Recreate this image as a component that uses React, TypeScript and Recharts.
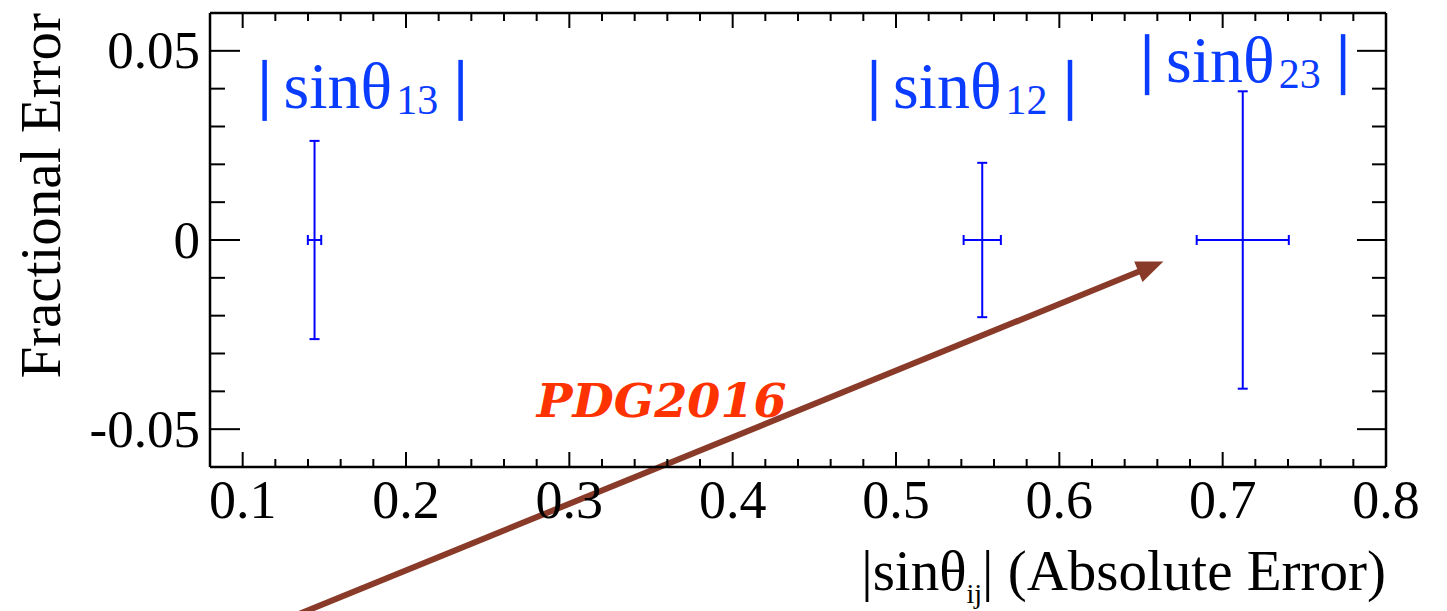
import React from "react";
import {
	ScatterChart,
	Scatter,
	XAxis,
	YAxis,
	ErrorBar,
	ReferenceLine,
	ReferenceDot,
} from "recharts";

// mixing angles: |sin θij| value, absolute (x) and fractional (y) errors
const angles = ["13", "12", "23"];
const sinValues = [0.144, 0.5528, 0.7123];
const fracValues = [0, 0, 0];
const absErrors = [0.0041, 0.0114, 0.0282];
const fracErrors = [0.0262, 0.0204, 0.0393];

// axis ticks
const xMajor = [0.1, 0.2, 0.3, 0.4, 0.5, 0.6, 0.7, 0.8];
const xLabels = ["0.1", "0.2", "0.3", "0.4", "0.5", "0.6", "0.7", "0.8"];
const yMajor = [-0.05, 0, 0.05];
const yLabels = ["-0.05", "0", "0.05"];

// annotation anchors, in data units
const labelX = [0.1734, 0.5465, 0.7137];
const labelY = [0.035, 0.035, 0.0418];
const arrowFrom = { x: 0.128, y: -0.1 };
const arrowTo = { x: 0.6637, y: -0.0057 };
const tagText = "PDG2016";
const tagPos = { x: 0.28, y: -0.0467 };

const SERIF = "'Liberation Serif', 'Times New Roman', serif";
const BLUE = "#0000ff";
const LABEL_BLUE = "#0a3cff";
const BROWN = "#8a3a28";

const xMinor = Array.from({ length: 36 }, (_, i) => +(0.1 + i * 0.02).toFixed(2));
const yMinor = Array.from({ length: 11 }, (_, i) => +(-0.05 + i * 0.01).toFixed(2));

const points = angles.map((a, i) => ({
	name: a,
	x: sinValues[i],
	y: fracValues[i],
	ex: absErrors[i],
	ey: fracErrors[i],
}));

const labels = angles.map((a, i) => ({ sub: a, x: labelX[i], y: labelY[i] }));

const majorIndex = (v: number, majors: number[]) =>
	majors.findIndex((m) => Math.abs(m - v) < 1e-9);

function BottomTick({ x, y, payload }: any) {
	const idx = majorIndex(payload.value, xMajor);
	const len = idx >= 0 ? 15 : 8;
	return (
		<g>
			<line x1={x} y1={y} x2={x} y2={y - len} stroke="#000" strokeWidth={2} />
			{idx >= 0 && (
				<text x={x} y={y + 51} textAnchor="middle" fontSize={54} fontFamily={SERIF} fill="#000">
					{xLabels[idx]}
				</text>
			)}
		</g>
	);
}

function TopTick({ x, y, payload }: any) {
	const len = majorIndex(payload.value, xMajor) >= 0 ? 15 : 8;
	return <line x1={x} y1={y} x2={x} y2={y + len} stroke="#000" strokeWidth={2} />;
}

function LeftTick({ x, y, payload }: any) {
	const idx = majorIndex(payload.value, yMajor);
	const len = idx >= 0 ? 30 : 15;
	return (
		<g>
			<line x1={x} y1={y} x2={x + len} y2={y} stroke="#000" strokeWidth={2} />
			{idx >= 0 && (
				<text x={x - 10} y={y + 17.5} textAnchor="end" fontSize={53} fontFamily={SERIF} fill="#000">
					{yLabels[idx]}
				</text>
			)}
		</g>
	);
}

function RightTick({ x, y, payload }: any) {
	const len = majorIndex(payload.value, yMajor) >= 0 ? 29 : 14;
	return <line x1={x} y1={y} x2={x - len} y2={y} stroke="#000" strokeWidth={2} />;
}

function SinLabel({ cx, cy, payload }: any) {
	const barTop = cy - 47.7;
	return (
		<g>
			<rect x={cx - 100.2} y={barTop} width={4.5} height={61} fill={LABEL_BLUE} />
			<rect x={cx + 95.8} y={barTop} width={4.5} height={61} fill={LABEL_BLUE} />
			<text x={cx - 79} y={cy} fontFamily={SERIF} fill={LABEL_BLUE}>
				<tspan fontSize={66}>sinθ</tspan>
				<tspan fontSize={42} dx={4} dy={6.5}>
					{payload.sub}
				</tspan>
			</text>
		</g>
	);
}

function Arrow({ x1, y1, x2, y2 }: any) {
	const dx = x2 - x1;
	const dy = y2 - y1;
	const L = Math.sqrt(dx * dx + dy * dy);
	const ux = dx / L;
	const uy = dy / L;
	const head = 27;
	const half = 11;
	const bx = x2 - ux * head;
	const by = y2 - uy * head;
	return (
		<g>
			<line x1={x1} y1={y1} x2={bx + ux * 2} y2={by + uy * 2} stroke={BROWN} strokeWidth={6} />
			<polygon
				points={`${x2},${y2} ${bx - uy * half},${by + ux * half} ${bx + uy * half},${by - ux * half}`}
				fill={BROWN}
			/>
		</g>
	);
}

export default function App() {
	const frame = { stroke: "#000", strokeWidth: 2.5 };
	return (
		<div>
			<style>{"body{margin:0}"}</style>
			<ScatterChart
				width={1447}
				height={611}
				margin={{ top: 12, right: 60, bottom: 0, left: 0 }}
				style={{ fontFamily: SERIF }}
			>
				<XAxis
					xAxisId="b"
					dataKey="x"
					type="number"
					orientation="bottom"
					domain={[0.08, 0.8]}
					allowDataOverflow
					ticks={xMinor}
					interval={0}
					tickSize={0}
					tickMargin={0}
					tickLine={false}
					height={144}
					axisLine={frame}
					tick={(p: any) => <BottomTick {...p} />}
					label={{
						content: ({ viewBox }: any) => (
							<text
								x={viewBox.x + viewBox.width}
								y={590}
								textAnchor="end"
								fontFamily={SERIF}
								fontSize={57}
								fill="#000"
							>
								|sinθ
								<tspan fontSize={28} dy={13}>
									ij
								</tspan>
								<tspan dy={-13}>| (Absolute Error)</tspan>
							</text>
						),
					}}
				/>
				<XAxis
					xAxisId="t"
					dataKey="x"
					type="number"
					orientation="top"
					domain={[0.08, 0.8]}
					allowDataOverflow
					ticks={xMinor}
					interval={0}
					tickSize={0}
					tickMargin={0}
					tickLine={false}
					height={1}
					axisLine={frame}
					tick={(p: any) => <TopTick {...p} />}
				/>
				<YAxis
					yAxisId="l"
					dataKey="y"
					type="number"
					domain={[-0.06, 0.06]}
					allowDataOverflow
					ticks={yMinor}
					interval={0}
					tickSize={0}
					tickMargin={0}
					tickLine={false}
					width={210}
					axisLine={frame}
					tick={(p: any) => <LeftTick {...p} />}
					label={{
						content: () => (
							<text
								x={60}
								y={13}
								transform="rotate(-90 60 13)"
								textAnchor="end"
								fontFamily={SERIF}
								fontSize={57}
								fill="#000"
							>
								Fractional Error
							</text>
						),
					}}
				/>
				<YAxis
					yAxisId="r"
					dataKey="y"
					type="number"
					orientation="right"
					domain={[-0.06, 0.06]}
					allowDataOverflow
					ticks={yMinor}
					interval={0}
					tickSize={0}
					tickMargin={0}
					tickLine={false}
					width={1}
					axisLine={frame}
					tick={(p: any) => <RightTick {...p} />}
				/>
				<Scatter
					xAxisId="b"
					yAxisId="l"
					data={points}
					isAnimationActive={false}
					shape={() => <g />}
				>
					<ErrorBar dataKey="ey" direction="y" width={5} stroke={BLUE} strokeWidth={2} isAnimationActive={false} />
					<ErrorBar dataKey="ex" direction="x" width={5} stroke={BLUE} strokeWidth={2} isAnimationActive={false} />
				</Scatter>
				<Scatter
					xAxisId="t"
					yAxisId="r"
					data={labels}
					isAnimationActive={false}
					shape={(p: any) => <SinLabel {...p} />}
				/>
				<ReferenceDot
					xAxisId="t"
					yAxisId="r"
					x={tagPos.x}
					y={tagPos.y}
					r={0}
					fill="none"
					stroke="none"
					ifOverflow="visible"
					label={{
						content: ({ viewBox }: any) => (
							<text
								x={viewBox.x}
								y={viewBox.y}
								fontFamily="'DejaVu Serif', serif"
								fontWeight="bold"
								fontStyle="italic"
								fontSize={46}
								textLength={250}
								lengthAdjust="spacingAndGlyphs"
								fill="#ff3300"
							>
								{tagText}
							</text>
						),
					}}
				/>
				<ReferenceLine
					xAxisId="b"
					yAxisId="l"
					segment={[arrowFrom, arrowTo]}
					ifOverflow="visible"
					shape={(p: any) => <Arrow {...p} />}
				/>
			</ScatterChart>
		</div>
	);
}
